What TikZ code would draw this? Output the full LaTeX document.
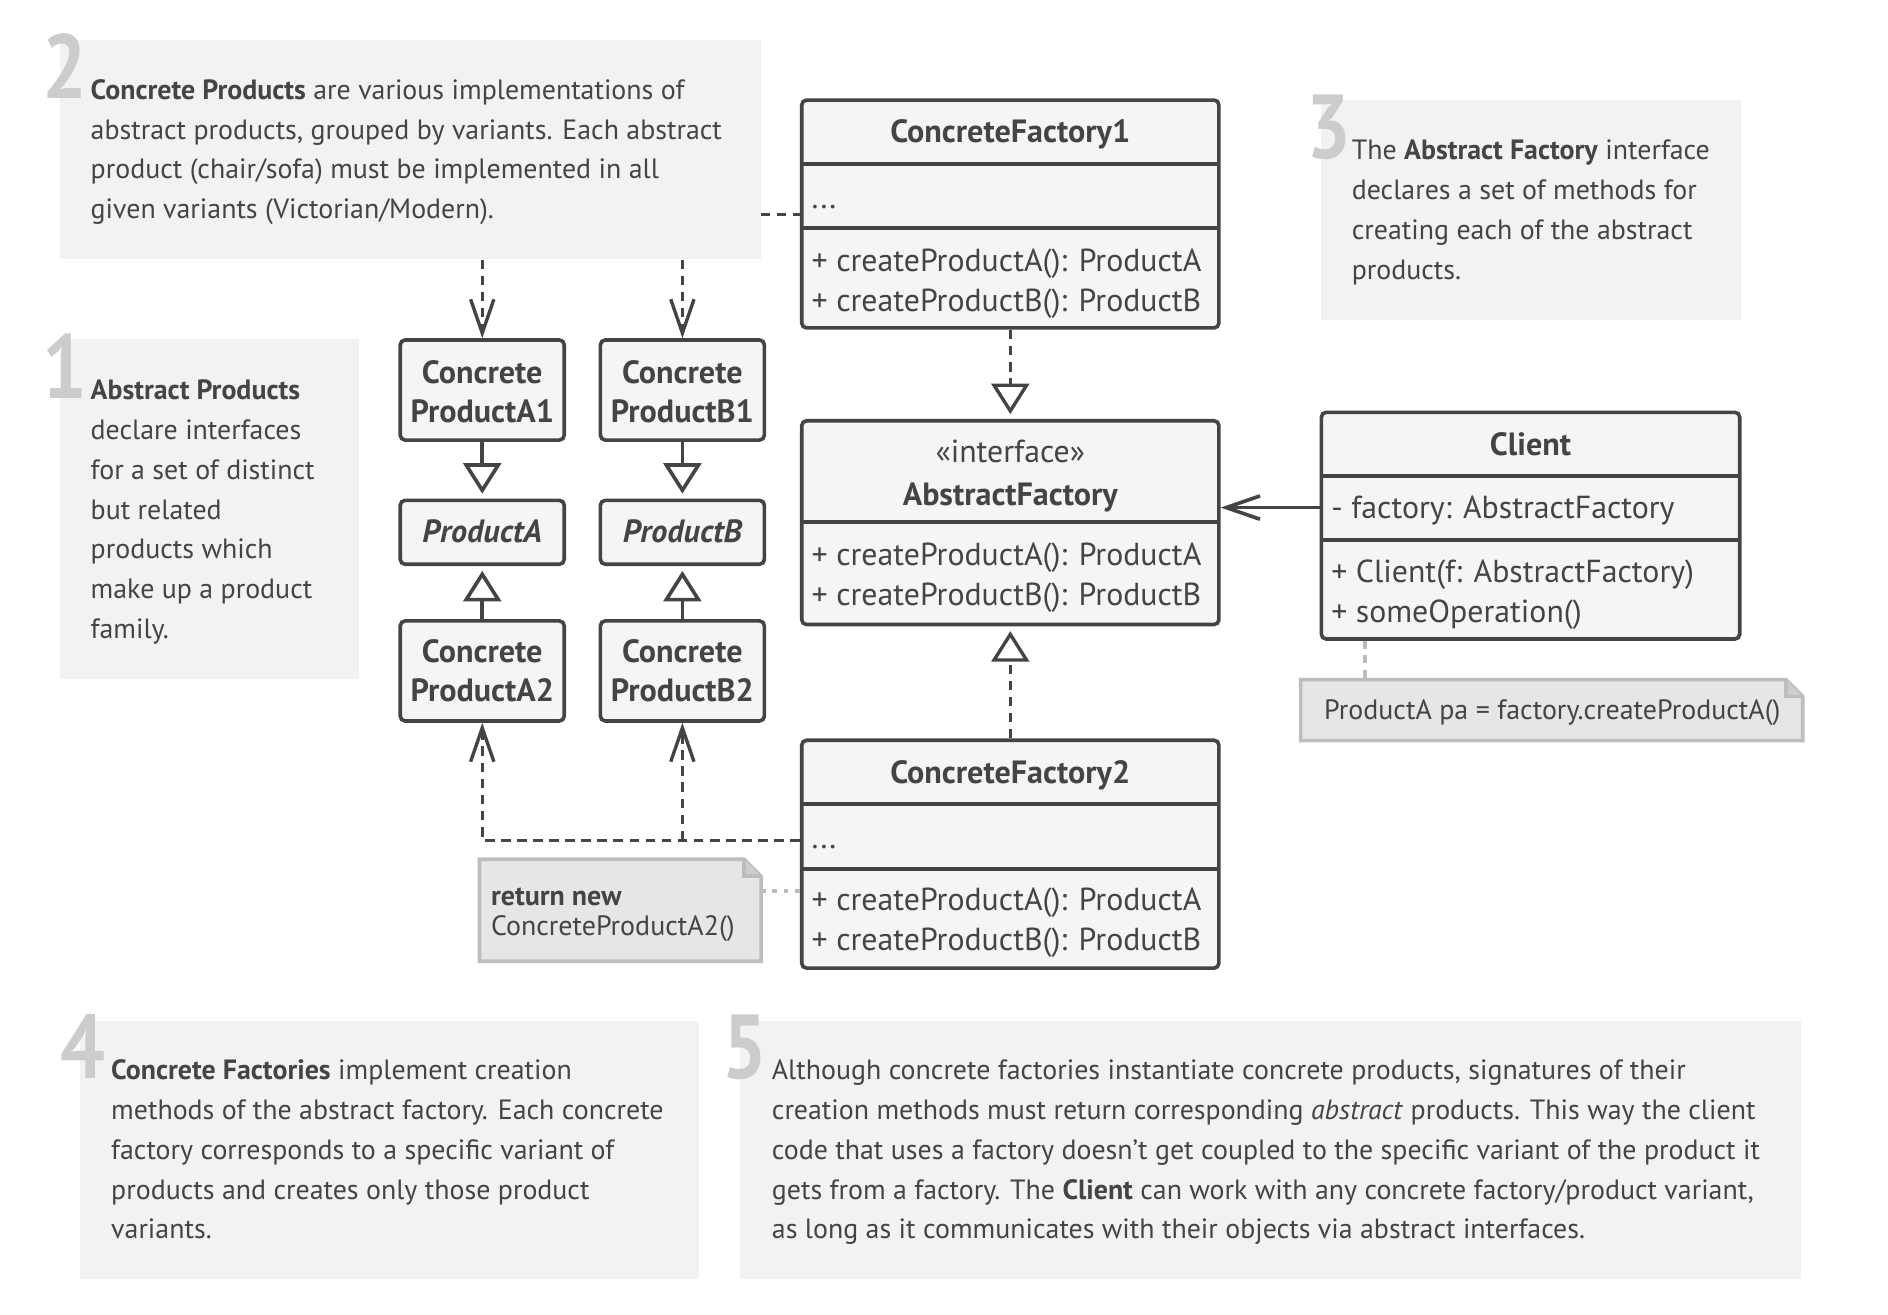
\documentclass[tikz,border=0pt]{standalone}
\usepackage{fontspec}
\setmainfont{PT Sans}
\usetikzlibrary{arrows.meta,fit,calc}
\definecolor{ink}{HTML}{444444}
\definecolor{boxfill}{HTML}{F5F5F5}
\definecolor{annfill}{HTML}{F2F2F2}
\definecolor{notefill}{HTML}{E6E6E6}
\definecolor{notedraw}{HTML}{BDBDBD}
\definecolor{digitc}{HTML}{CCCCCC}
\newcommand\lns[1]{\begin{tabular}[t]{@{}l@{}}#1\end{tabular}}
\newcommand\clns[1]{\begin{tabular}[t]{@{}c@{}}#1\end{tabular}}
\newcommand\dgt[1]{\scalebox{0.87}[1]{#1}}
\tikzset{
  ann/.style={fill=annfill, draw=none, inner sep=0pt},
  uml/.style={fill=boxfill, draw=ink, line width=2.25pt, rounded corners=3pt, inner sep=0pt},
  sepline/.style={draw=ink, line width=2.25pt},
  digit/.style={text=digitc, font=\fontsize{56.5}{56.5}\selectfont\bfseries, anchor=base west, inner sep=0pt},
  body/.style={text=ink, font=\fontsize{17.35}{24.8}\selectfont, anchor=base west, inner sep=0pt},
  mem/.style={text=ink, font=\fontsize{19.8}{24.9}\selectfont, anchor=base west, inner sep=0pt},
  ttl/.style={text=ink, font=\fontsize{20}{24.5}\selectfont\bfseries, anchor=base, inner sep=0pt},
  notetext/.style={text=ink, font=\fontsize{17.4}{18.75}\selectfont, anchor=base west, inner sep=0pt},
  dep/.style={draw=ink, line width=2.1pt, dash pattern=on 6pt off 4pt},
  solidline/.style={draw=ink, line width=2.25pt},
  vtip/.style={-{Straight Barb[length=21pt,width=14.5pt]}},
  tri/.style={-{Triangle[open,length=19pt,width=23.5pt]}},
  notebox/.style={fill=notefill, draw=notedraw, line width=2.25pt, line join=miter},
  greydot/.style={draw=notedraw, line width=2.25pt, dash pattern=on 3pt off 4pt},
  greydash/.style={draw=notedraw, line width=2.25pt, dash pattern=on 5pt off 4pt},
}
\begin{document}
\begin{tikzpicture}[x=0.75pt,y=-0.75pt]
\useasboundingbox (0,0) rectangle (1566,1090);
\fill[white] (0,0) rectangle (1566,1090);

% annotation boxes
\node[ann, fit={(50,33) (631,215)}] (n2) {};
\node[ann, fit={(50,281) (298,563)}] (n1) {};
\node[ann, fit={(1096,83) (1444,265)}] (n3) {};
\node[ann, fit={(66,847) (580,1061)}] (n4) {};
\node[ann, fit={(614,847) (1494,1061)}] (n5) {};

\node[digit] (d2) at (35,81.5) {\dgt{2}};
\node[digit] (d1) at (35,330.5) {\dgt{1}};
\node[digit] (d3) at (1083,131.5) {\dgt{3}};
\node[digit] (d4) at (50,894.5) {\dgt{4}};
\node[digit] (d5) at (599,894.5) {\dgt{5}};

\node[body] (t2) at (75,82.3) {\lns{\textbf{Concrete Products} are various implementations of\\abstract products, grouped by variants. Each abstract\\product (chair/sofa) must be implemented in all\\given variants (Victorian/Modern).}};
\node[body] (t1) at (75,331.3) {\lns{\textbf{Abstract Products}\\declare interfaces\\for a set of distinct\\but related\\products which\\make up a product\\family.}};
\node[body] (t3) at (1121,132.4) {\lns{The \textbf{Abstract Factory} interface\\declares a set of methods for\\creating each of the abstract\\products.}};
\node[body] (t4) at (92,895.3) {\lns{\textbf{Concrete Factories} implement creation\\methods of the abstract factory. Each concrete\\factory corresponds to a specific variant of\\products and creates only those product\\variants.}};
\node[body] (t5) at (640,895.3) {\lns{Although concrete factories instantiate concrete products, signatures of their\\creation methods must return corresponding \textit{abstract} products. This way the client\\code that uses a factory doesn’t get coupled to the specific variant of the product it\\gets from a factory. The \textbf{Client} can work with any concrete factory/product variant,\\as long as it communicates with their objects via abstract interfaces.}};

% UML classes
\node[uml, fit={(665,83) (1011,272)}] (cf1) {};
\draw[sepline] (665,136) -- (1011,136);
\draw[sepline] (665,189) -- (1011,189);
\node[ttl] (cf1t) at (838,118.5) {ConcreteFactory1};
\node[mem] (cf1d) at (673,173) {...};
\node[mem] (cf1m) at (673,224.8) {\lns{+ createProductA(): ProductA\\+ createProductB(): ProductB}};

\node[uml, fit={(665,349) (1011,518)}] (af) {};
\draw[sepline] (665,433) -- (1011,433);
\node[ttl, font=\fontsize{19.8}{24.5}\selectfont] (afs) at (838,384) {«interface»};
\node[ttl] (aft) at (838,419.5) {AbstractFactory};
\node[mem] (afm) at (673,469) {\lns{+ createProductA(): ProductA\\+ createProductB(): ProductB}};

\node[uml, fit={(665,614) (1011,803)}] (cf2) {};
\draw[sepline] (665,667) -- (1011,667);
\draw[sepline] (665,721) -- (1011,721);
\node[ttl] (cf2t) at (838,649.5) {ConcreteFactory2};
\node[mem] (cf2d) at (673,704) {...};
\node[mem] (cf2m) at (673,755.5) {\lns{+ createProductA(): ProductA\\+ createProductB(): ProductB}};

\node[uml, fit={(1096,342) (1443,530)}] (cl) {};
\draw[sepline] (1096,395) -- (1443,395);
\draw[sepline] (1096,448) -- (1443,448);
\node[ttl] (clt) at (1269.5,377.5) {Client};
\node[mem] (cla) at (1104,430) {- factory: AbstractFactory};
\node[mem] (clm) at (1104,483.5) {\lns{+ Client(f: AbstractFactory)\\+ someOperation()}};

% products
\node[uml, fit={(332,282) (468,365)}] (cpa1) {};
\node[ttl] (cpa1t) at (400,317.8) {\clns{Concrete\\ProductA1}};
\node[uml, fit={(498,282) (634,365)}] (cpb1) {};
\node[ttl] (cpb1t) at (566,317.8) {\clns{Concrete\\ProductB1}};
\node[uml, fit={(332,415) (468,468)}] (pa) {};
\node[ttl, font=\fontsize{20}{24.5}\selectfont\bfseries\itshape] (pat) at (400,450.3) {ProductA};
\node[uml, fit={(498,415) (634,468)}] (pb) {};
\node[ttl, font=\fontsize{20}{24.5}\selectfont\bfseries\itshape] (pbt) at (566,450.3) {ProductB};
\node[uml, fit={(332,515) (468,598)}] (cpa2) {};
\node[ttl] (cpa2t) at (400,549.5) {\clns{Concrete\\ProductA2}};
\node[uml, fit={(498,515) (634,598)}] (cpb2) {};
\node[ttl] (cpb2t) at (566,549.5) {\clns{Concrete\\ProductB2}};

% notes
\node[inner sep=0pt, fit={(398,713) (631,797)}] (nt1) {};
\draw[notebox] (nt1.south west) -- (nt1.north west) -- ($(nt1.north east)+(-14,0)$) -- ($(nt1.north east)+(0,14)$) -- (nt1.south east) -- cycle;
\draw[draw=notedraw, line width=2.25pt, fill=notedraw!60!notefill] ($(nt1.north east)+(-14,0)$) -- ($(nt1.north east)+(-14,14)$) -- ($(nt1.north east)+(0,14)$);
\node[notetext] (nt1t) at (407,751) {\lns{\textbf{return new}\\ConcreteProductA2()}};

\node[inner sep=0pt, fit={(1079,564) (1495,614)}] (nt2) {};
\draw[notebox] (nt2.south west) -- (nt2.north west) -- ($(nt2.north east)+(-14,0)$) -- ($(nt2.north east)+(0,14)$) -- (nt2.south east) -- cycle;
\draw[draw=notedraw, line width=2.25pt, fill=notedraw!60!notefill] ($(nt2.north east)+(-14,0)$) -- ($(nt2.north east)+(-14,14)$) -- ($(nt2.north east)+(0,14)$);
\node[notetext] (nt2t) at (1098,597) {ProductA pa = factory.createProductA()};

% connectors
\draw[dep, vtip] (n2.south -| cpa1.north) -- (cpa1.north);
\draw[dep, vtip] (n2.south -| cpb1.north) -- (cpb1.north);
\coordinate (n2r) at (631,178);
\draw[dep] (n2r) -- (n2r -| cf1.west);

\draw[solidline, tri] (cpa1.south) -- ($(pa.north)+(0,-4)$);
\draw[solidline, tri] (cpb1.south) -- ($(pb.north)+(0,-4)$);
\draw[solidline, tri] (cpa2.north) -- ($(pa.south)+(0,4)$);
\draw[solidline, tri] (cpb2.north) -- ($(pb.south)+(0,4)$);

\draw[dep, tri] (cf1.south) -- ($(af.north)+(0,-4)$);
\draw[dep, tri] (cf2.north) -- ($(af.south)+(0,4)$);

\coordinate (clx) at (cl.west |- 0,421);
\draw[solidline, vtip] (clx) -- (clx -| af.east);

\coordinate (cf2x) at (cf2.west |- 0,697);
\draw[dep, vtip] (cf2x) -| (cpa2.south);
\draw[dep, vtip] (cf2x -| cpb2.south) -- (cpb2.south);

\draw[greydot] (nt1.east |- 0,739) -- (cf2.west |- 0,739);
\draw[greydash] (cl.south -| 1132,0) -- (nt2.north -| 1132,0);
\end{tikzpicture}
\end{document}
